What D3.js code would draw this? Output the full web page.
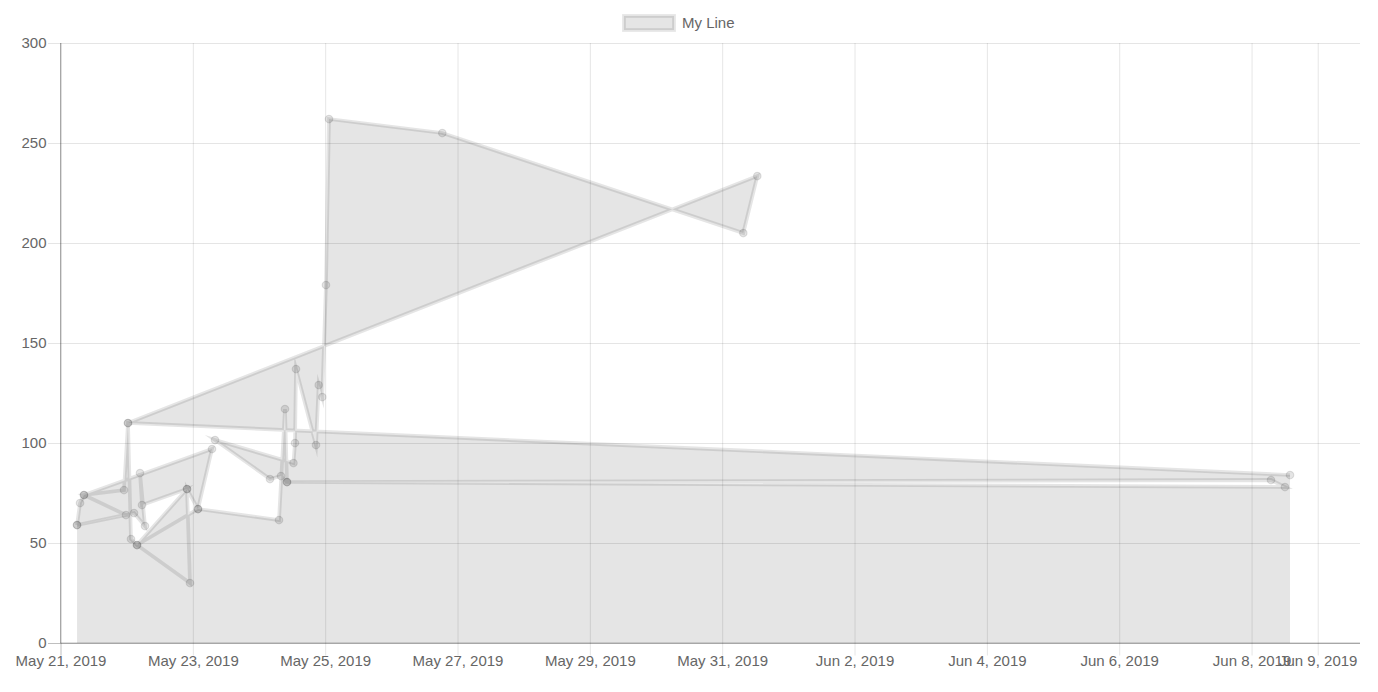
<!DOCTYPE html>
<html>
<head>
<meta charset="utf-8">
<script src="https://cdn.jsdelivr.net/npm/d3@7"></script>
<style>
  html, body { margin: 0; padding: 0; background: #fff; }
  svg { display: block; font-family: "Liberation Sans", Arial, Helvetica, sans-serif; }
</style>
</head>
<body>
<svg id="chart" width="1378" height="692"></svg>
<script>
// ---- data (in the order the line visits the points) ----
const seriesName = "My Line";
const pointDates = [
  "2019-05-21T06:00", "2019-05-21T07:05", "2019-05-21T08:31", "2019-05-23T06:57",
  "2019-05-23T01:52", "2019-05-24T07:15", "2019-05-24T09:25", "2019-05-24T10:09",
  "2019-06-08T12:07", "2019-06-08T07:03", "2019-05-24T10:09", "2019-05-24T07:58",
  "2019-05-24T03:59",
  "2019-05-23T08:03", "2019-05-24T12:30", "2019-05-24T13:03", "2019-05-24T13:25",
  "2019-05-24T20:40", "2019-05-24T21:39", "2019-05-24T22:57", "2019-05-25T00:17",
  "2019-05-25T01:23", "2019-05-26T18:29", "2019-05-31T07:39", "2019-05-31T12:44",
  "2019-05-22T00:29", "2019-05-22T01:34", "2019-05-22T03:45", "2019-05-23T01:52",
  "2019-05-22T21:53", "2019-05-22T22:58", "2019-05-22T03:45", "2019-05-22T21:53",
  "2019-05-22T05:34",
  "2019-05-22T04:50", "2019-05-22T06:39", "2019-05-22T02:40", "2019-05-21T06:00",
  "2019-05-21T23:45", "2019-05-21T08:31",
  "2019-05-21T23:02", "2019-05-22T00:29", "2019-06-08T13:57"
];
const pointValues = [
  59, 70, 74, 97,
  67, 61.5, 117, 80.5,
  78, 81.5, 80.5, 83.5,
  82,
  101.5, 90, 100, 137,
  99, 129, 123, 179,
  262, 255, 205, 233.5,
  110, 52, 49, 67,
  77, 30, 49, 77,
  69,
  85, 58.5, 65, 59,
  64, 74,
  76.5, 110, 84
];
const xTickDates = [
  "2019-05-21T00:00", "2019-05-23T00:00", "2019-05-25T00:00", "2019-05-27T00:00",
  "2019-05-29T00:00", "2019-05-31T00:00", "2019-06-02T00:00", "2019-06-04T00:00",
  "2019-06-06T00:00", "2019-06-08T00:00", "2019-06-09T00:00"
];
const xDomain = ["2019-05-21T00:00", "2019-06-09T15:20"];
const yTicks = [0, 50, 100, 150, 200, 250, 300];
const yDomain = [0, 300];

// ---- drawing ----
(function () {
  const parse = d3.utcParse("%Y-%m-%dT%H:%M");
  const fmt = d3.utcFormat("%b %-d, %Y");
  const data = pointDates.map((d, i) => ({ t: parse(d), v: pointValues[i] }));

  const pL = 60.5, pR = 1360, pT = 43, pB = 643;
  const x = d3.scaleUtc().domain(xDomain.map(parse)).range([pL, pR]);
  const y = d3.scaleLinear().domain(yDomain).range([pB, pT]);

  const svg = d3.select("#chart");
  const grid = "rgba(0,0,0,0.1)", zero = "rgba(0,0,0,0.25)";
  const col = "rgba(0,0,0,0.1)";
  const font = "Liberation Sans, Arial, sans-serif";

  // y grid + ticks
  const yAxis = d3.axisLeft(y).tickValues(yTicks).tickSizeInner(-(pR - pL)).tickSizeOuter(0).tickPadding(0);
  const gy = svg.append("g").attr("transform", `translate(${pL},0)`).call(yAxis);
  gy.select(".domain").remove();
  gy.selectAll(".tick line").attr("stroke", d => d === 0 ? zero : grid).attr("x1", -12.5).attr("stroke-width", 1);
  gy.selectAll(".tick text").attr("x", -14).attr("fill", "#666").attr("font-size", 15).attr("font-family", font);

  // x grid + ticks
  const xAxis = d3.axisBottom(x).tickValues(xTickDates.map(parse)).tickFormat(fmt)
    .tickSizeInner(-(pB - pT)).tickSizeOuter(0).tickPadding(0);
  const gx = svg.append("g").attr("transform", `translate(0,${pB})`).call(xAxis);
  gx.select(".domain").remove();
  gx.selectAll(".tick line").attr("stroke", (d, i) => i === 0 ? zero : grid).attr("y1", 12.5).attr("stroke-width", 1);
  gx.selectAll(".tick text").attr("y", 0).attr("dy", "1.55em").attr("fill", "#666").attr("font-size", 15).attr("font-family", font);

  // axis base lines
  svg.append("line").attr("x1", pL).attr("x2", pR).attr("y1", y(0)).attr("y2", y(0)).attr("stroke", zero);
  svg.append("line").attr("x1", pL).attr("x2", pL).attr("y1", pT).attr("y2", pB).attr("stroke", zero);

  // area fill to origin (path in data order, closed down to baseline)
  const linePts = data.map(d => [x(d.t), y(d.v)]);
  const first = linePts[0], last = linePts[linePts.length - 1];
  const areaPts = linePts.concat([[last[0], y(0)], [first[0], y(0)]]);
  svg.append("path")
    .attr("d", d3.line()(areaPts) + "Z")
    .attr("fill", col).attr("fill-rule", "nonzero").attr("stroke", "none");

  // line
  svg.append("path")
    .attr("d", d3.line().x(d => x(d.t)).y(d => y(d.v))(data))
    .attr("fill", "none").attr("stroke", col).attr("stroke-width", 3.75)
    .attr("stroke-linejoin", "miter").attr("stroke-miterlimit", 10);

  // points
  svg.append("g").selectAll("circle").data(data).join("circle")
    .attr("cx", d => x(d.t)).attr("cy", d => y(d.v)).attr("r", 3.75)
    .attr("fill", col).attr("stroke", col).attr("stroke-width", 1.25);

  // legend
  const lg = svg.append("g");
  lg.append("rect").attr("x", 624).attr("y", 16).attr("width", 50).attr("height", 14)
    .attr("fill", col).attr("stroke", col).attr("stroke-width", 3.75);
  lg.append("text").attr("x", 682).attr("y", 27.5).text(seriesName)
    .attr("fill", "#666").attr("font-size", 15).attr("font-family", font);
})();
</script>
</body>
</html>
